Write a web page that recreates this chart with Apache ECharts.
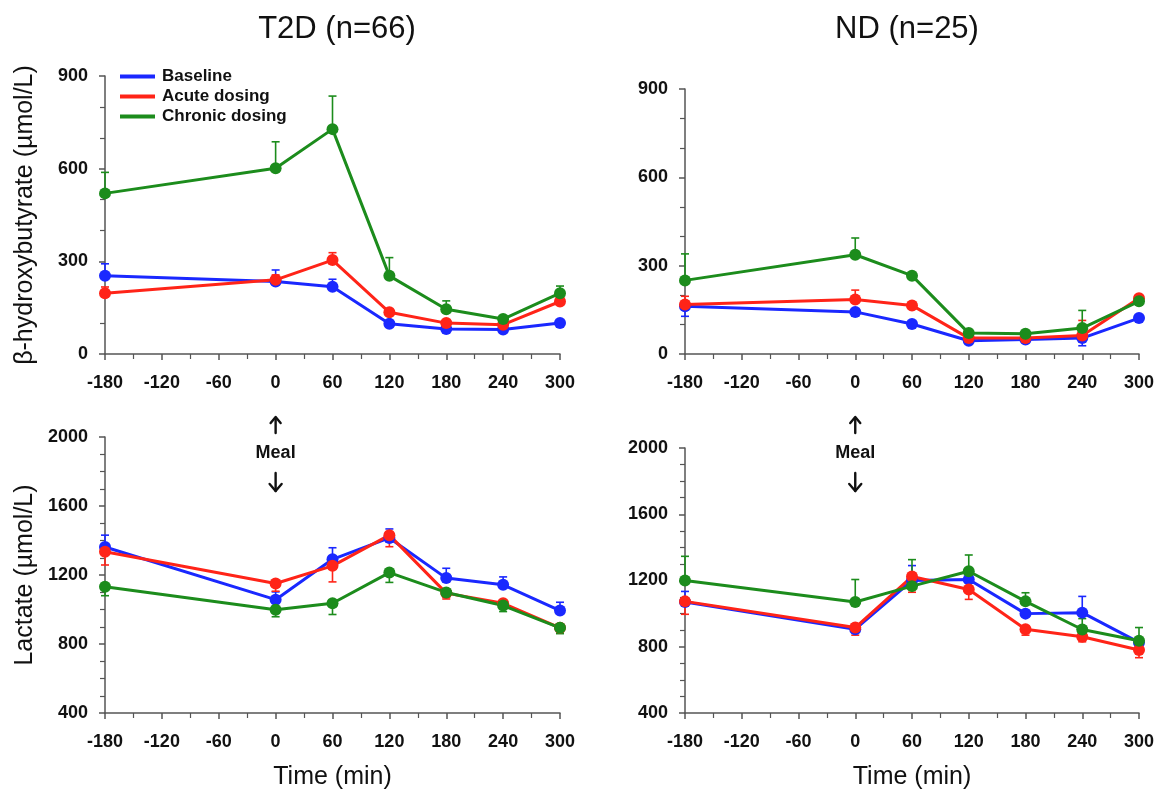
<!DOCTYPE html>
<html>
<head>
<meta charset="utf-8">
<script src="https://cdn.jsdelivr.net/npm/echarts@6/dist/echarts.min.js"></script>
<style>
html,body{margin:0;padding:0;background:#fff;}
#chart{width:1159px;height:791px;}
</style>
</head>
<body>
<div id="chart"></div>
<script>
const times = [-180, 0, 60, 120, 180, 240, 300];
const seriesNames = ['Baseline', 'Acute dosing', 'Chronic dosing'];
const panelTitles = ['T2D (n=66)', 'ND (n=25)'];

// β-hydroxybutyrate, T2D
const bhbT2dBaseline = [253, 235, 218, 98, 81, 79, 100];
const bhbT2dBaselineErr = [39, 37, 24, 6, 6, 6, 6];
const bhbT2dAcute = [197, 240, 304, 135, 100, 95, 170];
const bhbT2dAcuteErr = [20, 16, 24, 8, 6, 6, 10];
const bhbT2dChronic = [520, 601, 728, 253, 145, 113, 197];
const bhbT2dChronicErr = [68, 86, 107, 59, 27, 10, 23];

// β-hydroxybutyrate, ND
const bhbNdBaseline = [162, 143, 102, 45, 49, 54, 122];
const bhbNdBaselineErr = [34, 14, 8, 6, 6, 26, 6];
const bhbNdAcute = [168, 185, 165, 54, 54, 63, 189];
const bhbNdAcuteErr = [28, 32, 10, 6, 6, 51, 8];
const bhbNdChronic = [250, 337, 266, 71, 69, 88, 179];
const bhbNdChronicErr = [90, 57, 10, 8, 8, 60, 10];

// Lactate, T2D
const lacT2dBaseline = [1362, 1057, 1291, 1415, 1182, 1143, 994];
const lacT2dBaselineErr = [69, 45, 67, 52, 57, 46, 48];
const lacT2dAcute = [1335, 1151, 1253, 1431, 1095, 1036, 894];
const lacT2dAcuteErr = [77, 45, 93, 67, 34, 25, 25];
const lacT2dChronic = [1132, 998, 1036, 1214, 1099, 1023, 894];
const lacT2dChronicErr = [52, 40, 65, 57, 25, 35, 34];

// Lactate, ND
const lacNdBaseline = [1070, 906, 1200, 1206, 1000, 1006, 826];
const lacNdBaselineErr = [64, 30, 90, 20, 20, 98, 10];
const lacNdAcute = [1074, 916, 1224, 1146, 906, 860, 780];
const lacNdAcuteErr = [78, 46, 95, 60, 36, 30, 46];
const lacNdChronic = [1200, 1070, 1166, 1256, 1074, 904, 836];
const lacNdChronicErr = [146, 136, 160, 98, 52, 66, 80];

const xTickLabels = ['-180', '-120', '-60', '0', '60', '120', '180', '240', '300'];
const colors = ['#1a28ff', '#ff2418', '#1c8c1c'];

// error bar direction per series: 1 = upward, -1 = downward
const panels = [
  { vals: [bhbT2dBaseline, bhbT2dAcute, bhbT2dChronic], errs: [bhbT2dBaselineErr, bhbT2dAcuteErr, bhbT2dChronicErr], dir: [1, 1, 1] },
  { vals: [bhbNdBaseline, bhbNdAcute, bhbNdChronic], errs: [bhbNdBaselineErr, bhbNdAcuteErr, bhbNdChronicErr], dir: [-1, 1, 1] },
  { vals: [lacT2dBaseline, lacT2dAcute, lacT2dChronic], errs: [lacT2dBaselineErr, lacT2dAcuteErr, lacT2dChronicErr], dir: [1, -1, -1] },
  { vals: [lacNdBaseline, lacNdAcute, lacNdChronic], errs: [lacNdBaselineErr, lacNdAcuteErr, lacNdChronicErr], dir: [1, -1, 1] }
];

const chart = echarts.init(document.getElementById('chart'));
const FONT = '"Liberation Sans", Arial, Helvetica, sans-serif';
const axisColor = '#555';

const grids = [
  { left: 105, width: 455, top: 76, height: 278 },
  { left: 685, width: 454, top: 89, height: 265 },
  { left: 105, width: 455, top: 437, height: 278 },
  { left: 685, width: 454, top: 448, height: 267 }
];

const xAxes = grids.map((g, i) => ({
  gridIndex: i, type: 'value', min: -180, max: 300, interval: 60,
  name: i >= 2 ? 'Time (min)' : '', nameLocation: 'middle', nameGap: 52,
  nameTextStyle: { fontFamily: FONT, fontSize: 25, color: '#111' },
  axisLine: { show: true, onZero: false, lineStyle: { color: axisColor, width: 1.5 } },
  axisTick: { show: true, length: 6, lineStyle: { color: axisColor, width: 1.5 } },
  minorTick: { show: true, splitNumber: 2, length: 5, lineStyle: { color: axisColor, width: 1.2 } },
  splitLine: { show: false },
  axisLabel: { fontFamily: FONT, fontSize: 18, fontWeight: 'bold', color: '#111', margin: 20,
    formatter: v => { const s = String(v); return xTickLabels.indexOf(s) >= 0 ? s : ''; } }
}));

const yAxes = grids.map((g, i) => {
  const top = i < 2;
  return {
    gridIndex: i, type: 'value',
    min: top ? 0 : 400, max: top ? 900 : 2000, interval: top ? 300 : 400,
    name: i === 0 ? 'β-hydroxybutyrate (µmol/L)' : (i === 2 ? 'Lactate (µmol/L)' : ''),
    nameLocation: 'middle', nameGap: 67,
    nameTextStyle: { fontFamily: FONT, fontSize: 25, color: '#111' },
    axisLine: { show: true, onZero: false, lineStyle: { color: axisColor, width: 1.5 } },
    axisTick: { show: true, length: 6, lineStyle: { color: axisColor, width: 1.5 } },
    minorTick: { show: true, splitNumber: top ? 3 : 4, length: 5, lineStyle: { color: axisColor, width: 1.2 } },
    splitLine: { show: false },
    axisLabel: { fontFamily: FONT, fontSize: 18, fontWeight: 'bold', color: '#111', margin: 17,
      formatter: v => String(v) }
  };
});

const series = [];
panels.forEach((p, pi) => {
  for (let s = 0; s < 3; s++) {
    const d = p.dir[s];
    const errData = times.map((t, k) => [t, p.vals[s][k], p.vals[s][k] + d * p.errs[s][k]]);
    series.push({
      type: 'custom', xAxisIndex: pi, yAxisIndex: pi, silent: true, z: 2,
      data: errData,
      renderItem: (params, api) => {
        const x = api.value(0);
        const c = api.coord([x, api.value(1)]);
        const e = api.coord([x, api.value(2)]);
        const cw = 4;
        const style = { stroke: colors[s], lineWidth: 1.6, fill: null };
        return {
          type: 'group',
          children: [
            { type: 'line', shape: { x1: c[0], y1: c[1], x2: e[0], y2: e[1] }, style },
            { type: 'line', shape: { x1: e[0] - cw, y1: e[1], x2: e[0] + cw, y2: e[1] }, style }
          ]
        };
      }
    });
    series.push({
      name: seriesNames[s], type: 'line', xAxisIndex: pi, yAxisIndex: pi, z: 3,
      data: times.map((t, k) => [t, p.vals[s][k]]),
      symbol: 'circle', symbolSize: 12, showSymbol: true,
      lineStyle: { color: colors[s], width: 3 },
      itemStyle: { color: colors[s] },
      emphasis: { disabled: true },
      animation: false
    });
  }
});

chart.setOption({
  animation: false,
  backgroundColor: '#fff',
  title: [
    { text: panelTitles[0], left: 337, top: 14, padding: 0, textAlign: 'center',
      textStyle: { fontFamily: FONT, fontSize: 31, fontWeight: 'normal', color: '#111' } },
    { text: panelTitles[1], left: 907, top: 14, padding: 0, textAlign: 'center',
      textStyle: { fontFamily: FONT, fontSize: 31, fontWeight: 'normal', color: '#111' } }
  ],
  legend: {
    orient: 'vertical', left: 120, top: 68, padding: 0, itemGap: 3, itemWidth: 35, itemHeight: 4,
    data: seriesNames.map(n => ({ name: n, icon: 'rect' })),
    textStyle: { fontFamily: FONT, fontSize: 17, fontWeight: 'bold', color: '#111', padding: [0, 0, 0, 2] },
    selectedMode: false
  },
  grid: grids,
  xAxis: xAxes,
  yAxis: yAxes,
  series: series
});

// Meal annotations
const g = [];
const arrowStyle = { stroke: '#111', lineWidth: 2.4, fill: null, lineCap: 'round', lineJoin: 'round' };
[2, 3].forEach(gi => {
  const px = chart.convertToPixel({ gridIndex: gi }, [0, 1000])[0];
  g.push({ type: 'line', shape: { x1: px, y1: 418, x2: px, y2: 433 }, style: arrowStyle });
  g.push({ type: 'polyline', shape: { points: [[px - 5, 423], [px, 417], [px + 5, 423]] }, style: arrowStyle });
  g.push({ type: 'text', x: px, y: 453, style: { text: 'Meal', font: 'bold 18px ' + FONT, fill: '#111', align: 'center', verticalAlign: 'middle' } });
  g.push({ type: 'line', shape: { x1: px, y1: 473, x2: px, y2: 491 }, style: arrowStyle });
  g.push({ type: 'polyline', shape: { points: [[px - 6, 484], [px, 491], [px + 6, 484]] }, style: arrowStyle });
});
chart.setOption({ graphic: g });
</script>
</body>
</html>
